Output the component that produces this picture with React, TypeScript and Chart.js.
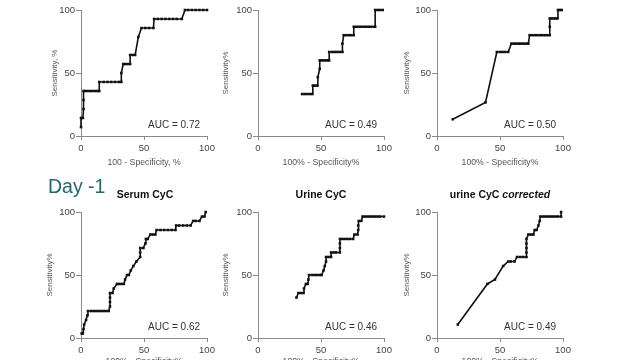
import React, { useEffect, useRef } from "react";
import { Chart, registerables } from "chart.js";

Chart.register(...registerables);

const FONT = "'Liberation Sans', Arial, Helvetica, sans-serif";

// Panel A (top-left)
const aX = [0, 0, 1.5, 2, 2, 2, 3, 5, 7, 9, 11, 13, 14.5, 14.5, 18, 21, 24, 27, 30, 32, 32, 33.5, 35, 37, 39, 39, 41, 43, 45.5, 48, 51, 54, 57.5, 58, 61, 64, 67, 70, 73, 76, 80, 82.5, 85, 88, 91, 94, 97, 100];
const aY = [7.1, 14.3, 14.3, 21.4, 28.6, 35.7, 35.7, 35.7, 35.7, 35.7, 35.7, 35.7, 35.7, 42.9, 42.9, 42.9, 42.9, 42.9, 42.9, 42.9, 50, 57.1, 57.1, 57.1, 57.1, 64.3, 64.3, 64.3, 78.6, 85.7, 85.7, 85.7, 85.7, 92.9, 92.9, 92.9, 92.9, 92.9, 92.9, 92.9, 92.9, 100, 100, 100, 100, 100, 100, 100];

// Panel B (top-middle)
const bX = [35, 37, 39, 41, 43, 43.5, 45, 47, 47.5, 49, 49, 51, 53, 55, 56.5, 56.5, 59, 61, 63, 65, 67, 67, 68, 70, 72, 74, 76, 76, 78, 80, 82, 84, 86, 88, 90, 92.5, 93, 93, 95, 97, 99];
const bY = [33.3, 33.3, 33.3, 33.3, 33.3, 40, 40, 40, 46.7, 53.3, 60, 60, 60, 60, 60, 66.7, 66.7, 66.7, 66.7, 66.7, 66.7, 73.3, 80, 80, 80, 80, 80, 86.7, 86.7, 86.7, 86.7, 86.7, 86.7, 86.7, 86.7, 86.7, 86.7, 100, 100, 100, 100];

// Panel C (top-right)
const cX = [12.5, 38.5, 47.5, 50, 52, 54, 56.5, 59, 61, 63, 65, 67, 69, 71, 72.5, 73.5, 75.5, 77.5, 79.5, 81.5, 83.5, 85.5, 87.5, 89.5, 89.5, 89.5, 91.5, 93.5, 95.5, 96, 97.5, 99];
const cY = [13.3, 26.7, 66.7, 66.7, 66.7, 66.7, 66.7, 73.3, 73.3, 73.3, 73.3, 73.3, 73.3, 73.3, 73.3, 80, 80, 80, 80, 80, 80, 80, 80, 80, 86.7, 93.3, 93.3, 93.3, 93.3, 100, 100, 100];

// Day -1 Serum CyC
const dX = [0.5, 1.5, 2, 2.5, 4, 5, 5.5, 8, 10, 12, 14, 16, 18, 20, 22, 23, 23, 23, 23, 25, 26, 28.5, 30, 32, 34, 35, 36.5, 38, 39.5, 41.5, 44, 47, 47, 47, 49.5, 51, 51.5, 53, 55, 57, 59, 60, 63, 66, 69, 72, 75, 75.5, 78, 81, 84, 87, 89, 91, 94, 96, 98, 99];
const dY = [3.6, 3.6, 7.1, 10.7, 14.3, 17.9, 21.4, 21.4, 21.4, 21.4, 21.4, 21.4, 21.4, 21.4, 21.4, 25, 28.6, 32.1, 35.7, 35.7, 39.3, 42.9, 42.9, 42.9, 42.9, 46.4, 50, 50, 53.6, 57.1, 60.7, 64.3, 67.9, 71.4, 71.4, 75, 78.6, 78.6, 82.1, 82.1, 82.1, 85.7, 85.7, 85.7, 85.7, 85.7, 85.7, 89.3, 89.3, 89.3, 89.3, 89.3, 92.9, 92.9, 92.9, 96.4, 96.4, 100];

// Day -1 Urine CyC
const eX = [30.5, 32, 34, 36, 36.5, 38, 39.5, 40, 40.5, 43, 45, 47, 49, 50.5, 52, 53, 54, 54, 56, 58, 58, 60, 62, 65, 65, 65, 65, 67, 69, 71, 73, 75.5, 76.5, 79, 79.5, 79.5, 80, 82, 83, 85, 87, 89, 91, 93, 95, 97, 100];
const eY = [32.1, 35.7, 35.7, 35.7, 39.3, 42.9, 42.9, 46.4, 50, 50, 50, 50, 50, 50, 53.6, 57.1, 60.7, 64.3, 64.3, 64.3, 67.9, 67.9, 67.9, 67.9, 71.4, 75, 78.6, 78.6, 78.6, 78.6, 78.6, 78.6, 82.1, 82.1, 85.7, 89.3, 92.9, 92.9, 96.4, 96.4, 96.4, 96.4, 96.4, 96.4, 96.4, 96.4, 96.4];

// Day -1 urine CyC corrected
const fX = [16.5, 40, 46, 52.5, 56.5, 58.5, 61.5, 63.5, 66, 68.5, 71, 71, 71, 71, 71, 72.5, 74.5, 76.5, 77.5, 79, 80.5, 81.5, 82, 84, 86, 88, 90, 92, 94, 96, 98.5, 98.5];
const fY = [10.7, 42.9, 46.4, 57.1, 60.7, 60.7, 60.7, 64.3, 64.3, 64.3, 64.3, 67.9, 71.4, 75, 78.6, 82.1, 82.1, 82.1, 85.7, 85.7, 89.3, 92.9, 96.4, 96.4, 96.4, 96.4, 96.4, 96.4, 96.4, 96.4, 96.4, 100];

const xTicks = [0, 50, 100];
const yTicks = [0, 50, 100];

const PADL = 50;
const PADT = 12;
const PADR = 25;
const PADB = 40;
const AREA = 126;

type PanelProps = {
  L: number;
  T: number;
  xs: number[];
  ys: number[];
  yTitle: string;
  xTitle: string;
  auc: string;
  yW: number;
  xH: number;
};

function Panel({ L, T, xs, ys, yTitle, xTitle, auc, yW, xH }: PanelProps) {
  const ref = useRef<HTMLCanvasElement>(null);
  const W = PADL + AREA + PADR;
  const H = PADT + AREA + PADB;

  useEffect(() => {
    if (!ref.current) return;
    const aucPlugin = {
      id: "aucText",
      afterDatasetsDraw(chart: any) {
        const { ctx, chartArea } = chart;
        ctx.save();
        ctx.font = `10px ${FONT}`;
        ctx.fillStyle = "#333";
        ctx.textAlign = "right";
        ctx.textBaseline = "middle";
        ctx.fillText(auc, chartArea.right - 7, chartArea.bottom - 11);
        ctx.restore();
      },
    };
    const axisColor = "#8a8a8a";
    const chart = new Chart(ref.current, {
      type: "line",
      data: {
        datasets: [
          {
            data: xs.map((x, i) => ({ x, y: ys[i] })),
            borderColor: "#111",
            backgroundColor: "#111",
            borderWidth: 1.6,
            pointStyle: "rect",
            pointRadius: 1.8,
            pointBorderWidth: 0,
            pointHoverRadius: 1.8,
            tension: 0,
            clip: 5,
          } as any,
        ],
      },
      options: {
        animation: false,
        responsive: false,
        events: [],
        layout: {
          padding: { left: PADL - yW, top: PADT, right: PADR, bottom: PADB - xH },
        },
        plugins: {
          legend: { display: false },
          tooltip: { enabled: false },
          title: { display: false },
        },
        scales: {
          x: {
            type: "linear",
            min: 0,
            max: 100,
            afterBuildTicks: (s: any) => {
              s.ticks = xTicks.map((v) => ({ value: v }));
            },
            afterFit: (s: any) => {
              s.height = xH;
            },
            grid: {
              display: true,
              drawOnChartArea: false,
              drawTicks: true,
              tickLength: 4,
              color: axisColor,
            },
            border: { display: true, color: axisColor, width: 1 },
            ticks: {
              color: "#444",
              font: { family: FONT, size: 9.5 },
              padding: 3,
              maxRotation: 0,
            },
            title: {
              display: true,
              text: xTitle,
              color: "#555",
              font: { family: FONT, size: 8.7 },
            },
          },
          y: {
            type: "linear",
            min: 0,
            max: 100,
            afterBuildTicks: (s: any) => {
              s.ticks = yTicks.map((v) => ({ value: v }));
            },
            afterFit: (s: any) => {
              s.width = yW;
            },
            grid: {
              display: true,
              drawOnChartArea: false,
              drawTicks: true,
              tickLength: 5,
              color: axisColor,
            },
            border: { display: true, color: axisColor, width: 1 },
            ticks: {
              color: "#444",
              font: { family: FONT, size: 9.5 },
              padding: 1,
            },
            title: {
              display: true,
              text: yTitle,
              color: "#555",
              font: { family: FONT, size: 8 },
            },
          },
        },
      } as any,
      plugins: [aucPlugin],
    });
    return () => chart.destroy();
  }, []);

  return (
    <canvas
      ref={ref}
      width={W}
      height={H}
      style={{ position: "absolute", left: L - PADL, top: T - PADT, width: W, height: H }}
    />
  );
}

export default function App() {
  const titleStyle: React.CSSProperties = {
    position: "absolute",
    width: 200,
    textAlign: "center",
    fontFamily: FONT,
    fontWeight: "bold",
    fontSize: 10.5,
    lineHeight: "10.5px",
    color: "#111",
    whiteSpace: "nowrap",
  };
  return (
    <div
      style={{
        position: "fixed",
        left: 0,
        top: 0,
        width: 640,
        height: 360,
        overflow: "hidden",
        background: "#fff",
      }}
    >
      <Panel L={81} T={10} xs={aX} ys={aY} yTitle="Sensitivity, %" xTitle="100 - Specificity, %" auc="AUC = 0.72" yW={35} xH={36} />
      <Panel L={258} T={10} xs={bX} ys={bY} yTitle="Sensitivity%" xTitle="100% - Specificity%" auc="AUC = 0.49" yW={41} xH={36} />
      <Panel L={437} T={10} xs={cX} ys={cY} yTitle="Sensitivity%" xTitle="100% - Specificity%" auc="AUC = 0.50" yW={39} xH={36} />
      <Panel L={81} T={212} xs={dX} ys={dY} yTitle="Sensitivity%" xTitle="100% - Specificity%" auc="AUC = 0.62" yW={40} xH={33} />
      <Panel L={258} T={212} xs={eX} ys={eY} yTitle="Sensitivity%" xTitle="100% - Specificity%" auc="AUC = 0.46" yW={41} xH={33} />
      <Panel L={437} T={212} xs={fX} ys={fY} yTitle="Sensitivity%" xTitle="100% - Specificity%" auc="AUC = 0.49" yW={39} xH={33} />
      <div
        style={{
          position: "absolute",
          left: 48,
          top: 176.5,
          fontFamily: FONT,
          fontSize: 19.5,
          lineHeight: "19.5px",
          color: "#1f6b6a",
          whiteSpace: "nowrap",
        }}
      >
        Day -1
      </div>
      <div style={{ ...titleStyle, left: 45, top: 188.5 }}>Serum CyC</div>
      <div style={{ ...titleStyle, left: 221, top: 189 }}>Urine CyC</div>
      <div style={{ ...titleStyle, left: 400, top: 189 }}>
        urine CyC <span style={{ fontStyle: "italic" }}>corrected</span>
      </div>
    </div>
  );
}
